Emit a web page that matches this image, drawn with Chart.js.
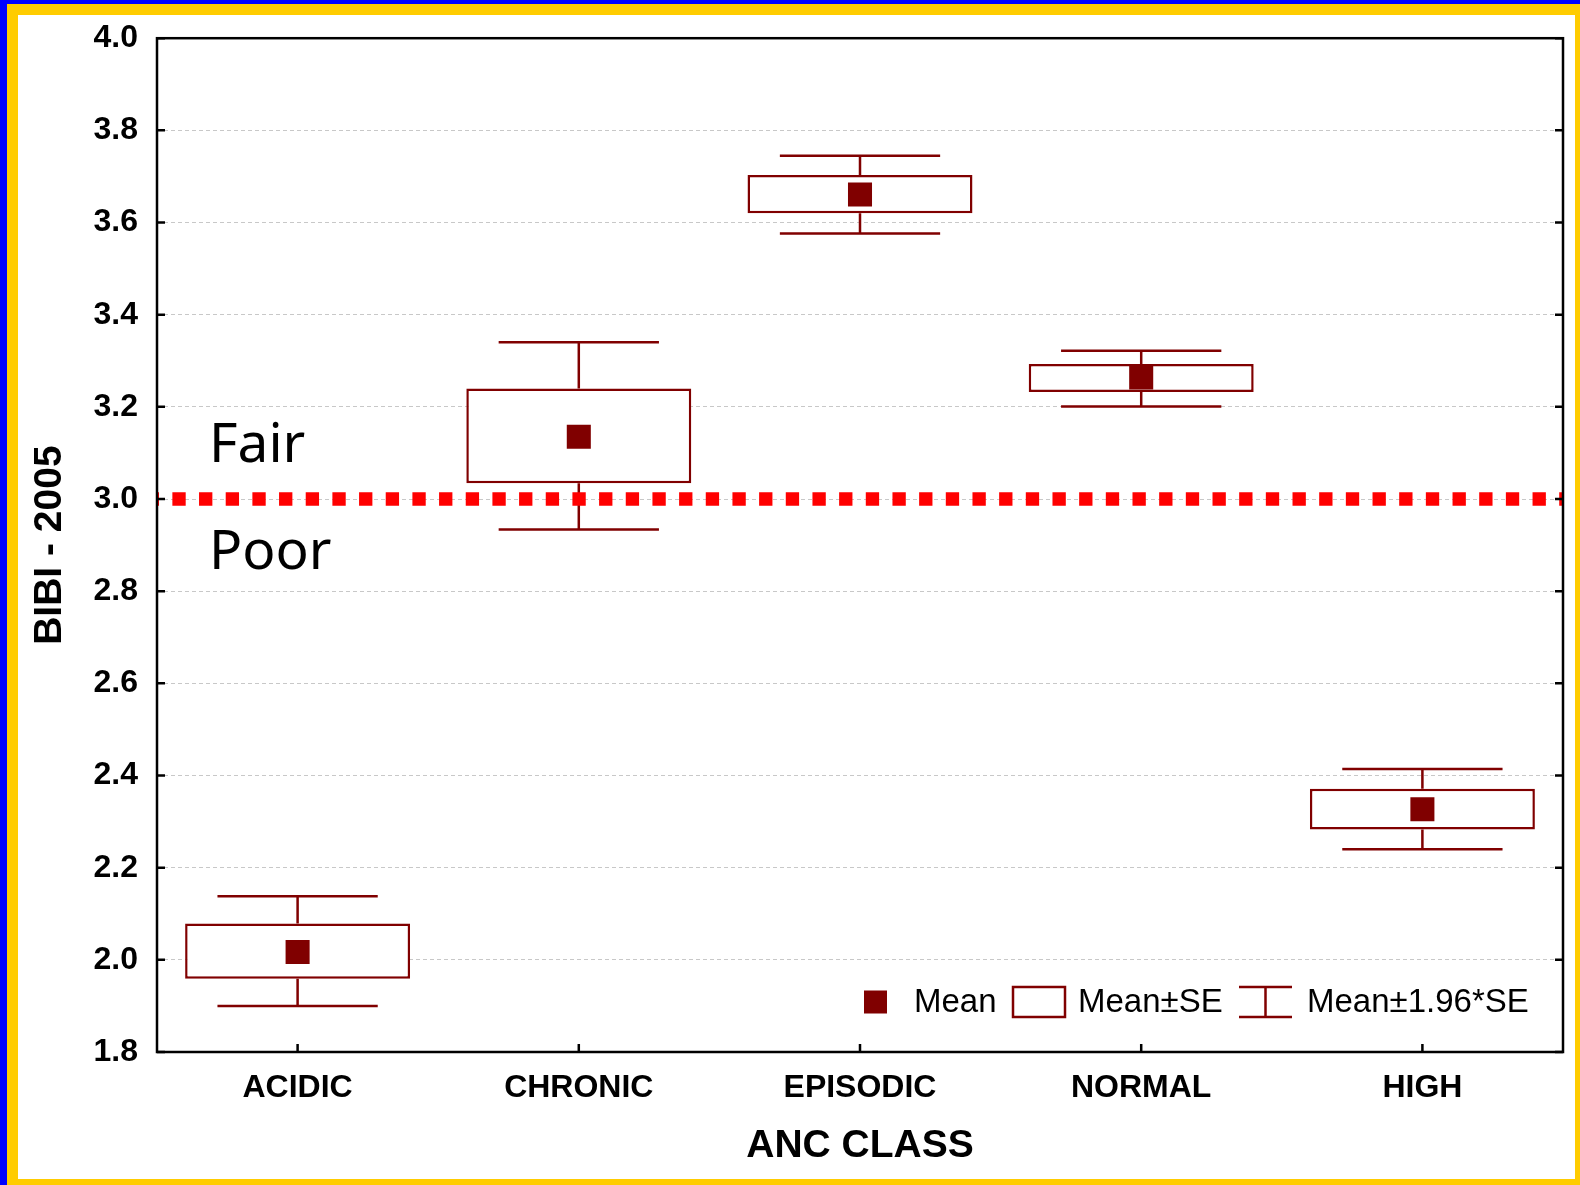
<!DOCTYPE html>
<html>
<head>
<meta charset="utf-8">
<title>BIBI - 2005 by ANC class</title>
<script src="https://cdn.jsdelivr.net/npm/chart.js@4.4.1/dist/chart.umd.min.js"></script>
<style>
  html, body { margin: 0; padding: 0; overflow: hidden; background: #fff; }
  #wrap { position: relative; width: 1580px; height: 1185px; }
</style>
</head>
<body>
<div id="wrap"><canvas id="chart"></canvas></div>
<script>
// ANC classes on the x axis
const categories = ['ACIDIC', 'CHRONIC', 'EPISODIC', 'NORMAL', 'HIGH'];
// BIBI 2005 statistics per class
const means   = [2.017, 3.135, 3.661, 3.264, 2.327];
const seLow   = [1.959, 3.034, 3.620, 3.232, 2.283];
const seHigh  = [2.079, 3.240, 3.703, 3.293, 2.371];
const ciLow   = [1.900, 2.934, 3.576, 3.201, 2.240];
const ciHigh  = [2.138, 3.340, 3.745, 3.322, 2.414];
// y axis ticks
const yTickValues = [1.8, 2.0, 2.2, 2.4, 2.6, 2.8, 3.0, 3.2, 3.4, 3.6, 3.8, 4.0];
// Fair / Poor threshold
const thresholdValue = 3.0;
const zoneLabels = [
  { text: 'Fair', value: 3.08 },
  { text: 'Poor', value: 2.848 }
];
const legendLabels = ['Mean', 'Mean\u00b1SE', 'Mean\u00b11.96*SE'];

const DARK_RED = '#800000';
const FONT = "'Liberation Sans', Arial, Helvetica, sans-serif";

// Page frame: blue edge, yellow band, white panel
const framePlugin = {
  id: 'frame',
  beforeDraw(chart) {
    const ctx = chart.ctx;
    const w = chart.width, h = chart.height;
    ctx.save();
    ctx.fillStyle = '#0000ff';
    ctx.fillRect(0, 0, w, h);
    ctx.fillStyle = '#ffcc00';
    ctx.fillRect(7, 4, w - 7, h - 4);
    ctx.fillStyle = '#ffffff';
    ctx.fillRect(18, 15, w - 18 - 5, h - 15 - 6);
    ctx.restore();
  }
};

// Whiskers for mean +/- 1.96*SE
const whiskerPlugin = {
  id: 'whiskers',
  beforeDatasetsDraw(chart) {
    const ctx = chart.ctx;
    const xs = chart.scales.x, ys = chart.scales.y;
    const catW = chart.chartArea.width / categories.length;
    const half = catW * 0.285;
    ctx.save();
    ctx.strokeStyle = DARK_RED;
    ctx.lineWidth = 2.5;
    ctx.lineCap = 'butt';
    categories.forEach((c, i) => {
      const x = xs.getPixelForValue(i);
      const yLo = ys.getPixelForValue(ciLow[i]);
      const yHi = ys.getPixelForValue(ciHigh[i]);
      const yBoxLo = ys.getPixelForValue(seLow[i]);
      const yBoxHi = ys.getPixelForValue(seHigh[i]);
      ctx.beginPath();
      ctx.moveTo(x, yHi); ctx.lineTo(x, yBoxHi);
      ctx.moveTo(x, yBoxLo); ctx.lineTo(x, yLo);
      ctx.moveTo(x - half, yHi); ctx.lineTo(x + half, yHi);
      ctx.moveTo(x - half, yLo); ctx.lineTo(x + half, yLo);
      ctx.stroke();
    });
    ctx.restore();
  }
};

// Plot frame, inward ticks, threshold line, zone labels and legend
const overlayPlugin = {
  id: 'overlay',
  afterDatasetsDraw(chart) {
    const ctx = chart.ctx;
    const a = chart.chartArea;
    const xs = chart.scales.x, ys = chart.scales.y;

    // dotted threshold line
    const yT = ys.getPixelForValue(thresholdValue);
    ctx.save();
    ctx.beginPath();
    ctx.rect(a.left, a.top, a.width, a.height);
    ctx.clip();
    ctx.strokeStyle = '#ff0000';
    ctx.lineWidth = 13.3;
    ctx.setLineDash([13.33, 13.34]);
    ctx.beginPath();
    ctx.moveTo(a.left - 11.3, yT);
    ctx.lineTo(a.right, yT);
    ctx.stroke();
    ctx.restore();

    // zone labels
    ctx.save();
    ctx.fillStyle = '#000';
    ctx.font = "55px 'Comic Sans MS', 'Noto Sans', sans-serif";
    ctx.textAlign = 'left';
    ctx.textBaseline = 'alphabetic';
    zoneLabels.forEach(z => {
      ctx.fillText(z.text, a.left + 52, ys.getPixelForValue(z.value));
    });
    ctx.restore();

    // frame and inward ticks
    ctx.save();
    ctx.strokeStyle = '#000';
    ctx.lineWidth = 2.5;
    ctx.strokeRect(a.left, a.top, a.width, a.height);
    ctx.beginPath();
    yTickValues.forEach(v => {
      const y = ys.getPixelForValue(v);
      ctx.moveTo(a.left, y); ctx.lineTo(a.left + 8, y);
      ctx.moveTo(a.right - 8, y); ctx.lineTo(a.right, y);
    });
    categories.forEach((c, i) => {
      const x = xs.getPixelForValue(i);
      ctx.moveTo(x, a.bottom); ctx.lineTo(x, a.bottom - 8);
    });
    ctx.stroke();
    ctx.restore();

    // legend
    const rowY = a.bottom - 50;
    const x0 = a.right - 699;
    ctx.save();
    ctx.fillStyle = DARK_RED;
    ctx.fillRect(x0, rowY - 11.5, 23, 23);
    ctx.strokeStyle = DARK_RED;
    ctx.lineWidth = 2.5;
    ctx.strokeRect(x0 + 149, rowY - 15, 52, 30);
    ctx.beginPath();
    const wx = x0 + 375;
    ctx.moveTo(wx, rowY - 15); ctx.lineTo(wx + 53, rowY - 15);
    ctx.moveTo(wx, rowY + 15); ctx.lineTo(wx + 53, rowY + 15);
    ctx.moveTo(wx + 26.5, rowY - 15); ctx.lineTo(wx + 26.5, rowY + 15);
    ctx.stroke();
    ctx.fillStyle = '#000';
    ctx.font = '33px ' + FONT;
    ctx.textAlign = 'left';
    ctx.textBaseline = 'middle';
    ctx.fillText(legendLabels[0], x0 + 50, rowY + 1);
    ctx.fillText(legendLabels[1], x0 + 214, rowY + 1);
    ctx.fillText(legendLabels[2], x0 + 443, rowY + 1);
    ctx.restore();
  }
};

new Chart(document.getElementById('chart'), {
  data: {
    labels: categories,
    datasets: [
      {
        type: 'bar',
        label: 'Mean\u00b1SE',
        data: seLow.map((lo, i) => [lo, seHigh[i]]),
        backgroundColor: '#ffffff',
        borderColor: DARK_RED,
        borderWidth: 2.5,
        borderSkipped: false,
        barPercentage: 0.8,
        categoryPercentage: 1.0,
        order: 2
      },
      {
        type: 'line',
        label: 'Mean',
        data: means,
        showLine: false,
        pointStyle: 'rect',
        pointRadius: 17,
        pointHoverRadius: 17,
        pointBorderWidth: 0,
        pointBackgroundColor: DARK_RED,
        pointBorderColor: DARK_RED,
        order: 1
      }
    ]
  },
  options: {
    responsive: true,
    maintainAspectRatio: false,
    animation: false,
    events: [],
    layout: { padding: { top: 38, right: 17, left: 0, bottom: 0 } },
    plugins: {
      legend: { display: false },
      tooltip: { enabled: false }
    },
    scales: {
      x: {
        type: 'category',
        offset: true,
        grid: { display: false, drawTicks: false },
        border: { display: false },
        ticks: {
          color: '#000',
          padding: 17,
          font: { family: FONT, size: 32, weight: 'bold' },
          maxRotation: 0
        },
        title: {
          display: true,
          text: 'ANC CLASS',
          color: '#000',
          font: { family: FONT, size: 39, weight: 'bold' },
          padding: { top: 0, bottom: 15.6 }
        },
        afterFit(s) { s.height = 133; }
      },
      y: {
        type: 'linear',
        min: 1.8,
        max: 4.0,
        afterBuildTicks(s) { s.ticks = yTickValues.map(v => ({ value: v })); },
        grid: {
          drawTicks: false,
          lineWidth: 1,
          color: c => (c.tick && (c.tick.value === 1.8 || c.tick.value === 4.0)) ? 'rgba(0,0,0,0)' : '#c8c8c8'
        },
        border: { display: false, dash: [4, 3] },
        ticks: {
          color: '#000',
          padding: 19,
          font: { family: FONT, size: 32, weight: 'bold' },
          callback: v => Number(v).toFixed(1)
        },
        title: {
          display: true,
          text: 'BIBI - 2005',
          color: '#000',
          font: { family: FONT, size: 39, weight: 'bold' },
          padding: { top: 26.6, bottom: 0 }
        },
        afterFit(s) { s.width = 157; }
      }
    }
  },
  plugins: [framePlugin, whiskerPlugin, overlayPlugin]
});
</script>
</body>
</html>
